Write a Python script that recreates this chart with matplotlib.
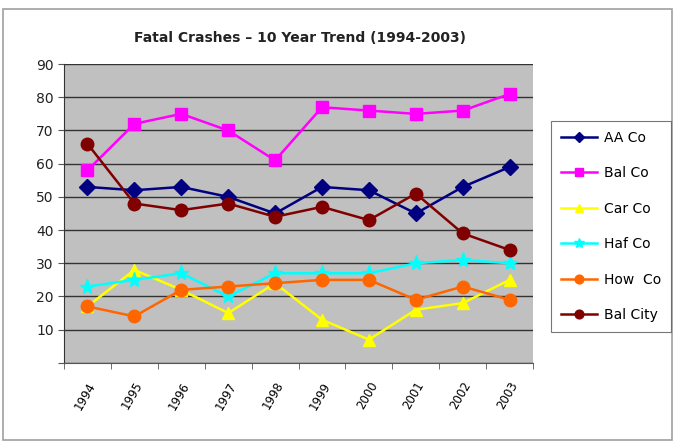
import matplotlib
matplotlib.use("Agg")
import matplotlib.pyplot as plt
from matplotlib.patches import Rectangle
import numpy as np

years = ["1994", "1995", "1996", "1997", "1998", "1999", "2000", "2001", "2002", "2003"]
aa_co = [53, 52, 53, 50, 45, 53, 52, 45, 53, 59]
bal_co = [58, 72, 75, 70, 61, 77, 76, 75, 76, 81]
car_co = [17, 28, 22, 15, 24, 13, 7, 16, 18, 25]
haf_co = [23, 25, 27, 20, 27, 27, 27, 30, 31, 30]
how_co = [17, 14, 22, 23, 24, 25, 25, 19, 23, 19]
bal_city = [66, 48, 46, 48, 44, 47, 43, 51, 39, 34]

series = [
    ("AA Co", aa_co, "#000080", "D", 8),
    ("Bal Co", bal_co, "#ff00ff", "s", 9),
    ("Car Co", car_co, "#ffff00", "^", 9),
    ("Haf Co", haf_co, "#00ffff", "*", 11),
    ("How  Co", how_co, "#ff6600", "o", 9),
    ("Bal City", bal_city, "#800000", "o", 9),
]

fig = plt.figure(figsize=(6.75, 4.42), dpi=100)
fig.patches.append(Rectangle((0.004, 0.004), 0.992, 0.975, transform=fig.transFigure,
                             fill=False, edgecolor="#a0a0a0", linewidth=1.2))
ax = fig.add_axes([0.0948, 0.179, 0.695, 0.676])
ax.set_facecolor("#c0c0c0")

x = np.arange(len(years))
handles = []
for name, vals, color, mk, ms in series:
    h, = ax.plot(x, vals, color=color, marker=mk, markersize=ms, linewidth=1.8, label=name)
    handles.append(h)

ax.set_xlim(-0.5, len(years) - 0.5)
ax.set_ylim(0, 90)
ax.set_yticks(np.arange(0, 91, 10))
ax.set_yticklabels([""] + [str(v) for v in range(10, 91, 10)], fontsize=10, color="#222222")
ax.yaxis.grid(True, color="#333333", linewidth=1)
ax.set_axisbelow(True)
ax.set_xticks(x)
ax.set_xticklabels(years, rotation=60, fontsize=8.5, ha="right", rotation_mode="anchor")
ax.tick_params(axis="x", length=0, pad=12)
ax.set_xticks(np.arange(-0.5, len(years), 1), minor=True)
ax.tick_params(axis="x", which="minor", length=4, color="#555555")
ax.tick_params(axis="y", length=4, color="#555555")
for s in ["top", "right"]:
    ax.spines[s].set_visible(False)
ax.spines["left"].set_color("#333333")
ax.spines["bottom"].set_color("#555555")

fig.text(0.445, 0.915, "Fatal Crashes \u2013 10 Year Trend (1994-2003)", ha="center", va="center",
         fontsize=10, fontweight="bold", color="#222222")

leg = fig.legend(handles=handles, loc="upper left", bbox_to_anchor=(0.806, 0.742),
                 frameon=True, fancybox=False, edgecolor="#555555", fontsize=10,
                 labelspacing=1.55, handlelength=2.6, markerscale=0.7, borderpad=0.7,
                 handletextpad=0.5)
leg.get_frame().set_linewidth(0.8)

fig.savefig("out.png", dpi=100)
